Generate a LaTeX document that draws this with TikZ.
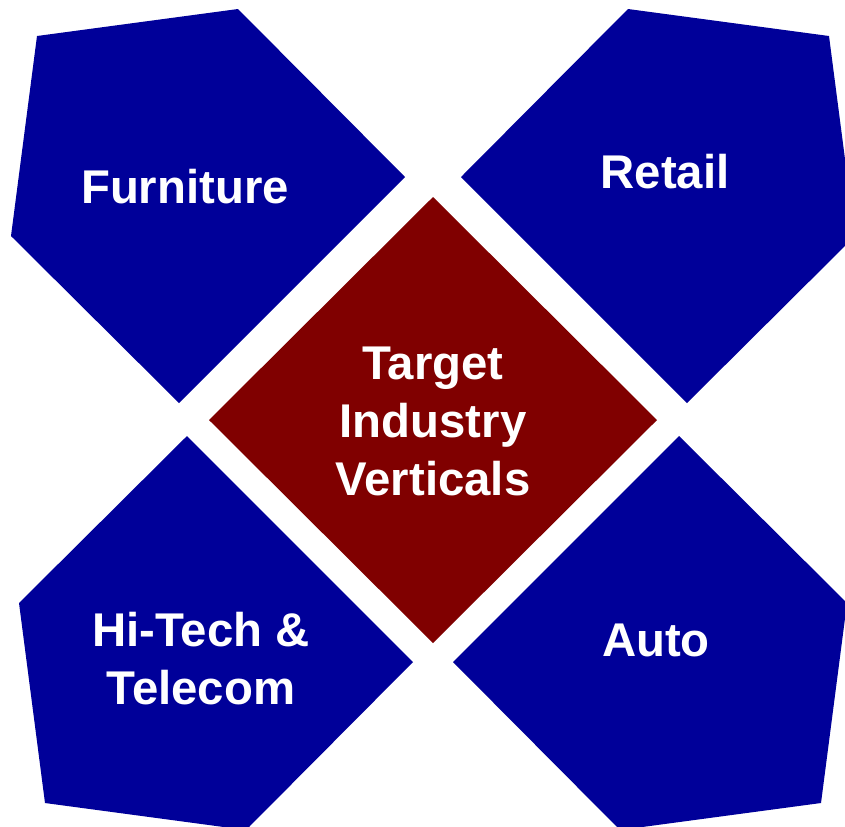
\documentclass[tikz,border=0pt]{standalone}
\usepackage{fontspec}
\setmainfont{Liberation Sans}
\definecolor{vertblue}{RGB}{0,0,153}
\definecolor{targetred}{RGB}{128,0,0}

\tikzset{every picture/.style={line width=0.75pt}}
\tikzset{
  sector/.style={fill=vertblue, draw=none},
  label/.style={text=white, inner sep=0.75pt, align=center,
    font=\fontsize{35.5}{43.5}\selectfont\bfseries}
}

\begin{document}
\begin{tikzpicture}[x=0.75pt,y=0.75pt,yscale=-1,xscale=1]
\useasboundingbox (0,0) rectangle (845,826);
\clip (0,0) rectangle (845,826);

%Shape: Pentagon [id:furniture]
\fill [sector] (37,36) -- (238,9) -- (405,177) -- (179,403) -- (11,236) -- cycle ;
%Shape: Pentagon [id:retail]
\fill [sector] (829,36) -- (628,9) -- (461,177) -- (687,403) -- (855,236) -- cycle ;
%Shape: Pentagon [id:hitech]
\fill [sector] (45,803) -- (246,830) -- (413,662) -- (187,436) -- (19,603) -- cycle ;
%Shape: Pentagon [id:auto]
\fill [sector] (821,803) -- (620,830) -- (453,662) -- (679,436) -- (847,603) -- cycle ;
%Shape: Diamond [id:target]
\fill [targetred] (433,197) -- (657,420) -- (433,643) -- (209,420) -- cycle ;

% Text Node
\node [label, anchor=base] (furniture) at (185,203) {Furniture};
% Text Node
\node [label, anchor=base] (retail) at (665,188) {Retail};
% Text Node
\node [label, anchor=base] (hitech) at (201,704) {Hi-Tech \&\\Telecom};
% Text Node
\node [label, anchor=base] (auto) at (656,656) {Auto};
% Text Node
\node [label, anchor=base] (target) at (433,495) {Target\\Industry\\Verticals};

\end{tikzpicture}
\end{document}
